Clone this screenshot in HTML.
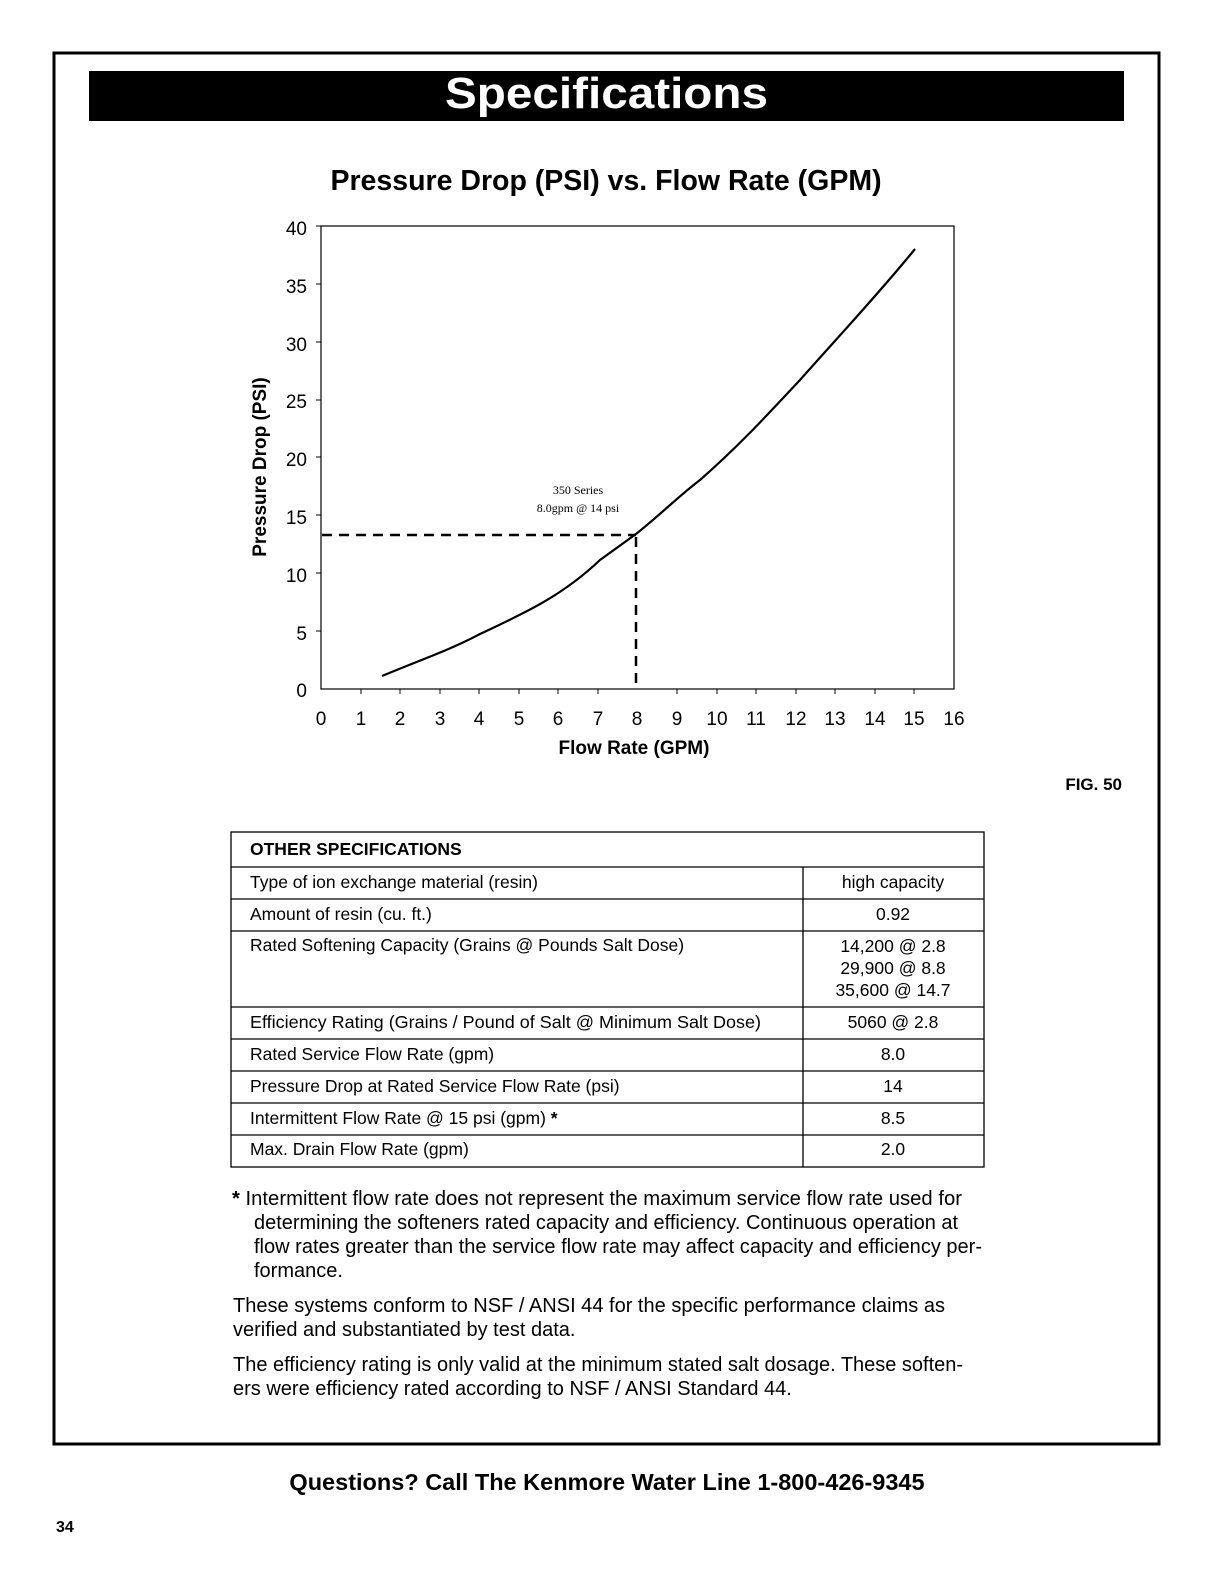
<!DOCTYPE html>
<html><head><meta charset="utf-8"><style>
html,body{margin:0;padding:0;background:#fff;overflow:hidden;width:100vw;height:100vh;}
svg{display:block;font-family:"Liberation Sans",sans-serif;position:absolute;left:0;top:0;width:100vw;height:100vh;}
</style></head><body>
<svg viewBox="0 0 1224 1584" preserveAspectRatio="none" xmlns="http://www.w3.org/2000/svg">
<rect x="54" y="53" width="1105" height="1391" fill="none" stroke="#000" stroke-width="3"/>
<rect x="89" y="71" width="1035" height="50" fill="#000"/>
<text x="445" y="108" textLength="323" lengthAdjust="spacingAndGlyphs" font-size="44" font-weight="bold" fill="#fff">Specifications</text>
<text x="606" y="190" text-anchor="middle" font-size="28.5" font-weight="bold">Pressure Drop (PSI) vs. Flow Rate (GPM)</text>
<rect x="321" y="226" width="633" height="463" fill="none" stroke="#000" stroke-width="1.2"/>
<g font-size="19" text-anchor="end">
<text x="307" y="235">40</text><text x="307" y="293">35</text><text x="307" y="351">30</text><text x="307" y="408">25</text><text x="307" y="466">20</text><text x="307" y="524">15</text><text x="307" y="582">10</text><text x="307" y="640">5</text><text x="307" y="697">0</text>
</g>
<g stroke="#000" stroke-width="1">
<line x1="316" y1="226" x2="321" y2="226"/><line x1="316" y1="284" x2="321" y2="284"/><line x1="316" y1="342" x2="321" y2="342"/><line x1="316" y1="400" x2="321" y2="400"/><line x1="316" y1="457" x2="321" y2="457"/><line x1="316" y1="515" x2="321" y2="515"/><line x1="316" y1="573" x2="321" y2="573"/><line x1="316" y1="631" x2="321" y2="631"/>
<line x1="361" y1="689" x2="361" y2="694"/><line x1="400" y1="689" x2="400" y2="694"/><line x1="440" y1="689" x2="440" y2="694"/><line x1="479" y1="689" x2="479" y2="694"/><line x1="519" y1="689" x2="519" y2="694"/><line x1="558" y1="689" x2="558" y2="694"/><line x1="598" y1="689" x2="598" y2="694"/><line x1="677" y1="689" x2="677" y2="694"/><line x1="717" y1="689" x2="717" y2="694"/><line x1="756" y1="689" x2="756" y2="694"/><line x1="796" y1="689" x2="796" y2="694"/><line x1="835" y1="689" x2="835" y2="694"/><line x1="875" y1="689" x2="875" y2="694"/><line x1="914" y1="689" x2="914" y2="694"/>
</g>
<g font-size="19" text-anchor="middle">
<text x="321" y="725">0</text><text x="361" y="725">1</text><text x="400" y="725">2</text><text x="440" y="725">3</text><text x="479" y="725">4</text><text x="519" y="725">5</text><text x="558" y="725">6</text><text x="598" y="725">7</text><text x="637" y="725">8</text><text x="677" y="725">9</text><text x="717" y="725">10</text><text x="756" y="725">11</text><text x="796" y="725">12</text><text x="835" y="725">13</text><text x="875" y="725">14</text><text x="914" y="725">15</text><text x="954" y="725">16</text>
</g>
<text x="634" y="754" text-anchor="middle" font-size="19" font-weight="bold">Flow Rate (GPM)</text>
<text transform="translate(266,467) rotate(-90)" text-anchor="middle" font-size="19" font-weight="bold">Pressure Drop (PSI)</text>
<path d="M382,676 C420,660 450,650 480,634 C520,615 560,598 600,560 L636,534 C660,515 680,495 700,480 C740,445 770,412 800,380 C840,335 880,292 915,249" fill="none" stroke="#000" stroke-width="2.2"/>
<line x1="322" y1="535" x2="636" y2="535" stroke="#000" stroke-width="2.5" stroke-dasharray="10,7"/>
<line x1="636" y1="537" x2="636" y2="689" stroke="#000" stroke-width="2.5" stroke-dasharray="10,7"/>
<g font-family="Liberation Serif,serif" font-size="12" text-anchor="middle">
<text x="578" y="494">350 Series</text><text x="578" y="512">8.0gpm @ 14 psi</text>
</g>
<text x="1122" y="790" text-anchor="end" font-size="17" font-weight="bold">FIG. 50</text>
<g fill="none" stroke="#000" stroke-width="1.3">
<rect x="231" y="832" width="753" height="335"/>
<line x1="231" y1="867" x2="984" y2="867"/><line x1="231" y1="899" x2="984" y2="899"/><line x1="231" y1="931" x2="984" y2="931"/><line x1="231" y1="1007" x2="984" y2="1007"/><line x1="231" y1="1039" x2="984" y2="1039"/><line x1="231" y1="1071" x2="984" y2="1071"/><line x1="231" y1="1103" x2="984" y2="1103"/><line x1="231" y1="1135" x2="984" y2="1135"/>
<line x1="803" y1="867" x2="803" y2="1167"/>
</g>
<text x="250" y="855" font-size="17.5" font-weight="bold">OTHER SPECIFICATIONS</text>
<g font-size="17.5">
<text x="250" y="888">Type of ion exchange material (resin)</text>
<text x="250" y="920">Amount of resin (cu. ft.)</text>
<text x="250" y="951">Rated Softening Capacity (Grains @ Pounds Salt Dose)</text>
<text x="250" y="1028" textLength="511" lengthAdjust="spacingAndGlyphs">Efficiency Rating (Grains / Pound of Salt @ Minimum Salt Dose)</text>
<text x="250" y="1060">Rated Service Flow Rate (gpm)</text>
<text x="250" y="1092">Pressure Drop at Rated Service Flow Rate (psi)</text>
<text x="250" y="1124">Intermittent Flow Rate @ 15 psi (gpm) <tspan font-weight="bold">*</tspan></text>
<text x="250" y="1155">Max. Drain Flow Rate (gpm)</text>
</g>
<g font-size="17.5" text-anchor="middle">
<text x="893" y="888">high capacity</text><text x="893" y="920">0.92</text>
<text x="893" y="952">14,200 @ 2.8</text><text x="893" y="974">29,900 @ 8.8</text><text x="893" y="996">35,600 @ 14.7</text>
<text x="893" y="1028">5060 @ 2.8</text><text x="893" y="1060">8.0</text><text x="893" y="1092">14</text><text x="893" y="1124">8.5</text><text x="893" y="1155">2.0</text>
</g>
<g font-size="20">
<text x="232" y="1205" textLength="730" lengthAdjust="spacingAndGlyphs"><tspan font-weight="bold">*</tspan> Intermittent flow rate does not represent the maximum service flow rate used for</text>
<text x="254" y="1229" textLength="704" lengthAdjust="spacingAndGlyphs">determining the softeners rated capacity and efficiency. Continuous operation at</text>
<text x="254" y="1253" textLength="728" lengthAdjust="spacingAndGlyphs">flow rates greater than the service flow rate may affect capacity and efficiency per-</text>
<text x="254" y="1277">formance.</text>
<text x="233" y="1312" textLength="712" lengthAdjust="spacingAndGlyphs">These systems conform to NSF / ANSI 44 for the specific performance claims as</text>
<text x="233" y="1336">verified and substantiated by test data.</text>
<text x="233" y="1371" textLength="730" lengthAdjust="spacingAndGlyphs">The efficiency rating is only valid at the minimum stated salt dosage. These soften-</text>
<text x="233" y="1395">ers were efficiency rated according to NSF / ANSI Standard 44.</text>
</g>
<text x="607" y="1490" text-anchor="middle" font-size="23.5" font-weight="bold">Questions? Call The Kenmore Water Line 1-800-426-9345</text>
<text x="56" y="1532" font-size="16" font-weight="bold">34</text>
</svg>
</body></html>
